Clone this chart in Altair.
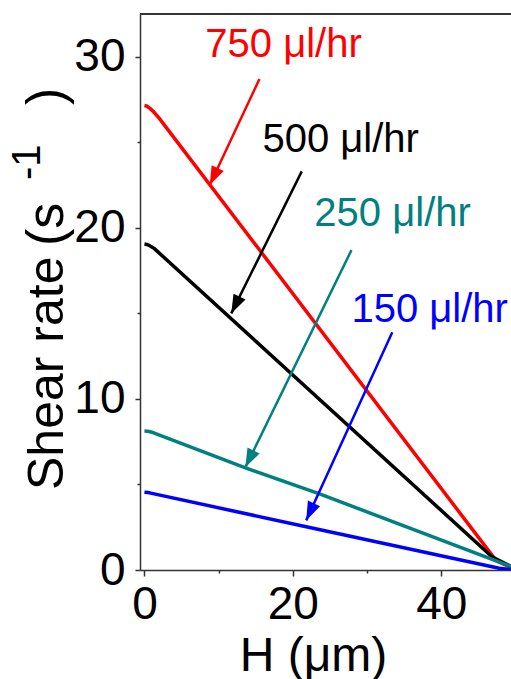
import altair as alt
import pandas as pd

# ---- data ----
series = ["750 μl/hr", "500 μl/hr", "250 μl/hr", "150 μl/hr"]
colors = ["#FF0000", "#000000", "#008080", "#0000FF"]

H_750 = [0.0, 0.3, 0.7, 1.2, 2.0, 47.4, 49.4]
S_750 = [27.15, 27.12, 27.0, 26.8, 26.4, 0.55, 0.15]

H_500 = [0.0, 0.3, 0.7, 1.3, 46.9, 49.4]
S_500 = [19.05, 19.03, 18.96, 18.8, 0.75, 0.2]

H_250 = [0.0, 0.4, 0.9, 1.5, 13.7, 23.6, 49.4]
S_250 = [8.12, 8.11, 8.07, 7.97, 5.95, 4.45, 0.2]

H_150 = [0.0, 0.5, 1.0, 21.8, 47.8, 49.4]
S_150 = [4.55, 4.53, 4.48, 2.53, 0.1, 0.02]

# annotation arrows: start (tail) and tip, in data units
arrow_x0 = [15.5, 21.2, 27.9, 33.4]
arrow_y0 = [28.7, 23.3, 18.7, 13.9]
arrow_x1 = [8.8, 11.7, 13.6, 21.8]
arrow_y1 = [22.5, 15.0, 6.0, 2.9]
arrow_angle = [25.3, 26.2, 26.0, 24.6]

# annotation labels (left / baseline anchor), data units
label_x = [8.2, 15.9, 22.9, 27.9]
label_y = [30.0, 24.45, 20.1, 14.5]

# y-axis title pieces (text, font size)
ytitle_text = ["Shear rate", "(s", "-1", ")"]
ytitle_size = [50, 52, 40, 52]

FONT = "Liberation Sans, Arial, sans-serif"
W, H = 371, 556

rows = []
for name, hs, ss in zip(series, [H_750, H_500, H_250, H_150], [S_750, S_500, S_250, S_150]):
    for i, (h, s) in enumerate(zip(hs, ss)):
        rows.append({"series": name, "H": h, "S": s, "i": i})
df = pd.DataFrame(rows)

ann = pd.DataFrame({
    "series": series,
    "x0": arrow_x0, "y0": arrow_y0,
    "x1": arrow_x1, "y1": arrow_y1,
    "angle": arrow_angle,
    "tx": label_x, "ty": label_y,
})

xs = alt.Scale(domain=[-0.6, 49.4], nice=False, zero=False)
ys = alt.Scale(domain=[0, 32.5], nice=False)
cs = alt.Scale(domain=series, range=colors)

x_axis = alt.Axis(
    values=[0, 10, 20, 30, 40],
    labelExpr="datum.value % 20 === 0 ? datum.label : ''",
    tickSize={"condition": {"test": "datum.value % 20 === 0", "value": 6}, "value": 3},
    labelFontSize=46, labelFont=FONT, labelColor="black", labelPadding=6,
    labelFlush=False, labelOverlap=False, labelBound=False,
    domainColor="#333333", domainWidth=1.5, tickColor="#333333", tickWidth=1.5,
    grid=False,
    title="H (μm)", titleFont=FONT, titleFontSize=48, titleFontWeight="normal",
    titleColor="black", titleX=173, titleY=100, titleBaseline="alphabetic",
    titleAlign="center", titleAnchor="middle",
)
y_axis = alt.Axis(
    values=[0, 5, 10, 15, 20, 25, 30],
    labelExpr="datum.value % 10 === 0 ? datum.label : ''",
    tickSize={"condition": {"test": "datum.value % 10 === 0", "value": 5}, "value": 3},
    labelFontSize=46, labelFont=FONT, labelColor="black", labelPadding=10,
    labelFlush=False, labelOverlap=False, labelBound=False,
    domainColor="#333333", domainWidth=1.5, tickColor="#333333", tickWidth=1.5,
    grid=False, title=None,
)

lines = alt.Chart(df).mark_line(strokeWidth=3.5, clip=True, strokeJoin="round").encode(
    x=alt.X("H:Q", scale=xs, axis=x_axis),
    y=alt.Y("S:Q", scale=ys, axis=y_axis),
    color=alt.Color("series:N", scale=cs, legend=None),
    order="i:Q",
)

shafts = alt.Chart(ann).mark_rule(strokeWidth=2.5).encode(
    x=alt.X("x0:Q", scale=xs), y=alt.Y("y0:Q", scale=ys),
    x2="x1:Q", y2="y1:Q",
    color=alt.Color("series:N", scale=cs, legend=None),
)

heads = alt.Chart(ann).mark_point(
    shape="M0,0 L-0.36,-1 L0.36,-1 Z", filled=True, opacity=1, size=1400, strokeWidth=0
).encode(
    x=alt.X("x1:Q", scale=xs), y=alt.Y("y1:Q", scale=ys),
    angle=alt.Angle("angle:Q", scale=None),
    color=alt.Color("series:N", scale=cs, legend=None),
)

labels = alt.Chart(ann).mark_text(
    align="left", baseline="alphabetic", fontSize=40, font=FONT
).encode(
    x=alt.X("tx:Q", scale=xs), y=alt.Y("ty:Q", scale=ys),
    text="series:N",
    color=alt.Color("series:N", scale=cs, legend=None),
)

top_frame = alt.Chart(ann).mark_rule(color="#333333", strokeWidth=1.5).encode(
    x=alt.value(0), x2=alt.value(W), y=alt.value(0)
)

# rotated y-axis title, built from pieces so the superscript can be raised
title_layers = []
title_pos = [(-77, 476), (-77, 232), (-100, 166), (-77, 91)]
for (txt, fs), (px, py) in zip(zip(ytitle_text, ytitle_size), title_pos):
    title_layers.append(
        alt.Chart(ann).transform_filter("datum.series === '750 μl/hr'").mark_text(
            text=txt, angle=270, align="left", baseline="alphabetic",
            fontSize=fs, font=FONT, color="black",
        ).encode(x=alt.value(px), y=alt.value(py))
    )

chart = alt.layer(lines, shafts, heads, labels, top_frame, *title_layers).properties(
    width=W, height=H,
    padding={"left": 140, "top": 14, "right": 0, "bottom": 109},
    autosize=alt.AutoSizeParams(type="none"),
    background="white",
).configure_view(stroke=None)

chart.save("out.html", embed_options={"renderer": "svg", "actions": False})
